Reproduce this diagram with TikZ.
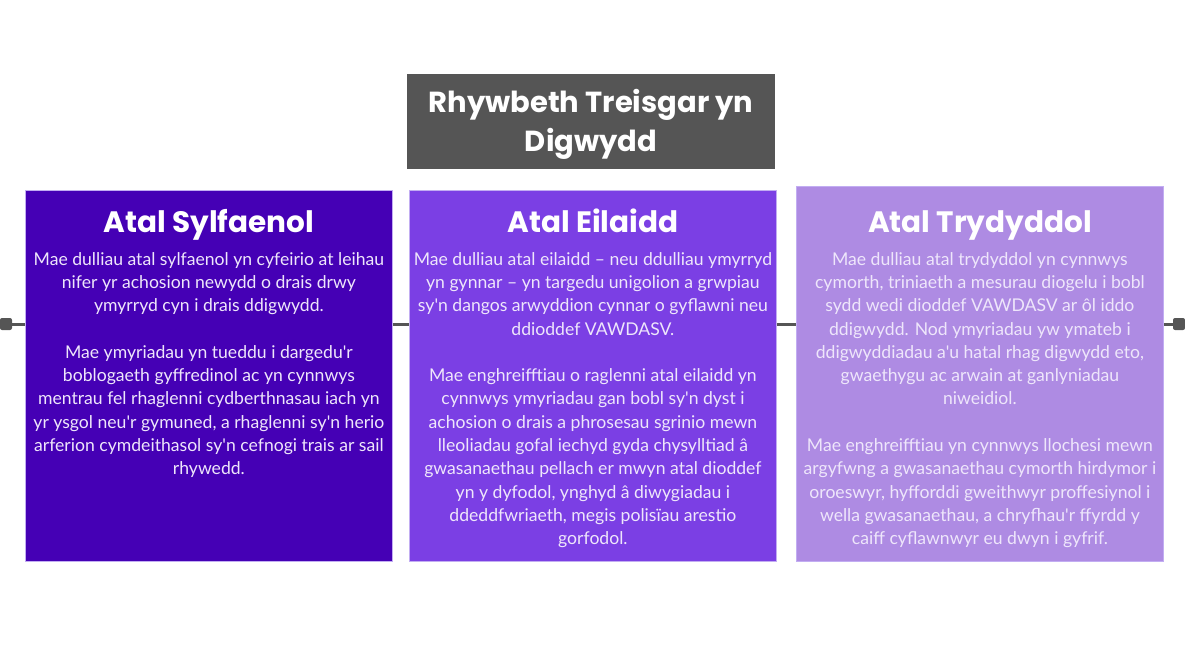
\documentclass[tikz,border=0pt]{standalone}
\usepackage{fontspec}
\setmainfont{Lato}[Ligatures=TeXOff]
\newfontfamily\headfont{Poppins}[Ligatures=TeXOff]
\usetikzlibrary{positioning}
\definecolor{titlegray}{HTML}{555555}
\definecolor{primary}{HTML}{4500B5}
\definecolor{secondary}{HTML}{7B3FE4}
\definecolor{tertiary}{HTML}{AE8BE3}
\definecolor{edgeline}{HTML}{C2ADF2}
\definecolor{bodytext}{HTML}{EEE6FB}
\tikzset {
    panel/.style={rectangle, draw=edgeline, line width=0.8pt, minimum width=367pt,
        minimum height=371pt, anchor=north west, inner sep=0pt},
    titlebox/.style={rectangle, fill=titlegray, minimum width=368pt, minimum height=95pt,
        text=white, align=center, font=\headfont\bfseries\fontsize{29}{39}\selectfont},
    heading/.style={text=white, anchor=base, inner sep=0pt,
        font=\headfont\bfseries\fontsize{29.5}{34}\selectfont},
    body/.style={text=bodytext, align=center, inner sep=0pt,
        font=\fontsize{17.6}{23.3}\selectfont},
    timeline/.style={draw=titlegray, line width=3pt},
    endcap/.style={rectangle, fill=titlegray, rounded corners=2pt, minimum size=12pt, inner sep=0pt}
}

\begin{document}
\begin{tikzpicture}[x=1pt, y=-1pt]
    \useasboundingbox (0,0) rectangle (1185,667);

    % title
    \node[titlebox] (title) at (591,121.5) {\rule{0pt}{28pt}Rhywbeth Treisgar yn\\Digwydd};

    % the three panels
    \node[panel, fill=primary] (box1) at (25,190) {};
    \node[panel, fill=secondary] (box2) at (409,190) {};
    \node[panel, fill=tertiary, minimum height=375pt] (box3) at (796,186) {};

    \node[heading] (head1) at ([yshift=-42pt]box1.north) {Atal Sylfaenol};
    \node[heading] (head2) at (box2.north |- head1.base) {Atal Eilaidd};
    \node[heading] (head3) at (box3.north |- head1.base) {Atal Trydyddol};

    \node[body, below=20pt of head1.base] (body1) {Mae dulliau atal sylfaenol yn cyfeirio at leihau\\
        nifer yr achosion newydd o drais drwy\\
        ymyrryd cyn i drais ddigwydd.\\[23.3pt]
        Mae ymyriadau yn tueddu i dargedu'r\\
        boblogaeth gyffredinol ac yn cynnwys\\
        mentrau fel rhaglenni cydberthnasau iach yn\\
        yr ysgol neu'r gymuned, a rhaglenni sy'n herio\\
        arferion cymdeithasol sy'n cefnogi trais ar sail\\
        rhywedd.};
    \node[body, below=20pt of head2.base] (body2) {Mae dulliau atal eilaidd – neu ddulliau ymyrryd\\
        yn gynnar – yn targedu unigolion a grwpiau\\
        sy'n dangos arwyddion cynnar o gyflawni neu\\
        ddioddef VAWDASV.\\[23.3pt]
        Mae enghreifftiau o raglenni atal eilaidd yn\\
        cynnwys ymyriadau gan bobl sy'n dyst i\\
        achosion o drais a phrosesau sgrinio mewn\\
        lleoliadau gofal iechyd gyda chysylltiad â\\
        gwasanaethau pellach er mwyn atal dioddef\\
        yn y dyfodol, ynghyd â diwygiadau i\\
        ddeddfwriaeth, megis polisïau arestio\\
        gorfodol.};
    \node[body, below=20pt of head3.base] (body3) {Mae dulliau atal trydyddol yn cynnwys\\
        cymorth, triniaeth a mesurau diogelu i bobl\\
        sydd wedi dioddef VAWDASV ar ôl iddo\\
        ddigwydd. Nod ymyriadau yw ymateb i\\
        ddigwyddiadau a'u hatal rhag digwydd eto,\\
        gwaethygu ac arwain at ganlyniadau\\
        niweidiol.\\[23.3pt]
        Mae enghreifftiau yn cynnwys llochesi mewn\\
        argyfwng a gwasanaethau cymorth hirdymor i\\
        oroeswyr, hyfforddi gweithwyr proffesiynol i\\
        wella gwasanaethau, a chryfhau'r ffyrdd y\\
        caiff cyflawnwyr eu dwyn i gyfrif.};

    % timeline through the panels
    \node[endcap] (capL) at (6,324) {};
    \node[endcap] (capR) at (1179,324) {};
    \draw[timeline] (capL.east) -- (capL -| box1.west);
    \draw[timeline] (box1.east |- capL) -- (box2.west |- capL);
    \draw[timeline] (box2.east |- capL) -- (box3.west |- capL);
    \draw[timeline] (box3.east |- capR) -- (capR.west);
\end{tikzpicture}
\end{document}
